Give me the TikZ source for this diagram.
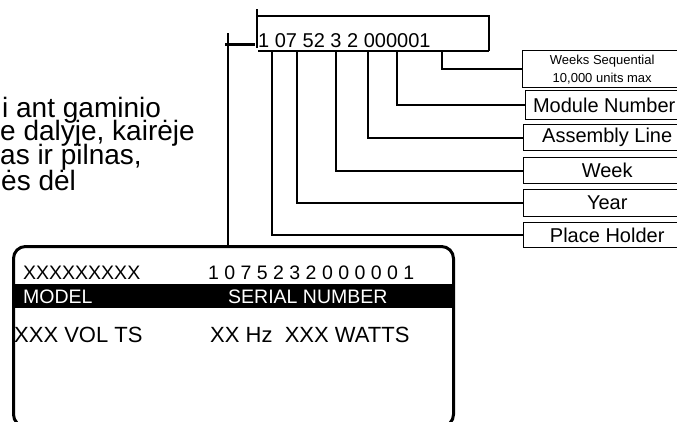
\documentclass[tikz,border=0pt]{standalone}
\usepackage{fontspec}
\setmainfont{Liberation Sans}
\usepackage{xcolor}
\usetikzlibrary{positioning}
\definecolor{ink}{HTML}{000000}

\tikzset{
  lead/.style={line width=1.8pt, draw=ink},
  fieldbox/.style={draw=ink, line width=1.4pt, anchor=north west, inner sep=0pt,
    minimum width=167pt, align=center, font=\fontsize{20}{22}\selectfont},
  platetext/.style={anchor=base west, inner sep=0pt, font=\fontsize{19.5}{22}\selectfont},
  notetext/.style={anchor=base west, inner sep=0pt, font=\fontsize{28}{28}\selectfont},
}

\begin{document}
\begin{tikzpicture}[x=1pt, y=-1pt, line cap=butt]
  \useasboundingbox (0,0) rectangle (677,421);
  \clip (0,0) rectangle (677,421);

  % cut-off note on the left
  \node[notetext] (note1) at (2,117) {i ant gaminio};
  \node[notetext] (note2) at (0,140) {e dalyje, kairėje};
  \node[notetext] (note3) at (0,164) {as ir pilnas,};
  \node[notetext] (note4) at (1,190) {ės dėl};

  % serial number with its bracket
  \node[anchor=base west, inner sep=0pt, font=\fontsize{20}{24}\selectfont] (serial) at (258,47) {1 07 52 3 2 000001};
  \coordinate (ul) at (258,51);
  \coordinate (ur) at (489,51);
  \draw[lead] (257,9) -- (257,48);
  \draw[lead] (257,16) -- (489,16) -- (ur);
  \draw[lead] (ul) -- (ur);

  % field boxes
  \node[fieldbox, minimum height=37pt, font=\fontsize{13}{18}\selectfont] (weeks) at (522,50) {\kern-8pt Weeks Sequential\\\kern-8pt 10,000 units max};
  \node[fieldbox, minimum height=29pt] (module) at (525,90) {\raisebox{-4pt}{\kern-10pt Module Number}};
  \node[fieldbox, minimum height=26pt] (assembly) at (523,124) {Assembly Line};
  \node[fieldbox, minimum height=26pt] (week) at (523,157) {Week};
  \node[fieldbox, minimum height=27pt] (year) at (523,189) {Year};
  \node[fieldbox, minimum height=25pt] (holder) at (523,222) {Place Holder};

  % taps on the underline
  \coordinate (tapweeks) at (442,51);
  \coordinate (tapmodule) at (397,51);
  \coordinate (tapassembly) at (368,51);
  \coordinate (tapweek) at (336,51);
  \coordinate (tapyear) at (297,51);
  \coordinate (tapholder) at (272,51);
  \draw[lead] (tapweeks) |- (weeks.west);
  \draw[lead] (tapmodule) |- (module.west);
  \draw[lead] (tapassembly) |- (assembly.west);
  \draw[lead] (tapweek) |- (week.west);
  \draw[lead] (tapyear) |- (year.west);
  \draw[lead] (tapholder) |- (holder.west);

  % rating plate
  \node[draw=ink, line width=3pt, rounded corners=12pt, anchor=north west, inner sep=0pt,
    minimum width=440pt, minimum height=180pt] (plate) at (12,245) {};
  \fill[ink] (12,284) rectangle (452,308);
  \coordinate (mark) at (228,33);
  \draw[line width=3pt, draw=ink] (225,44) -- (255,44);
  \draw[lead] (mark) -- (mark |- plate.north);

  \node[platetext] (model) at (23,279) {XXXXXXXXX};
  \node[platetext] (number) at (208,279) {1 0 7 5 2 3 2 0 0 0 0 0 1};
  \node[platetext, text=white] (modellabel) at (23,303) {MODEL};
  \node[platetext, text=white] (numberlabel) at (228,303) {SERIAL NUMBER};
  \node[anchor=base west, inner sep=0pt, font=\fontsize{22}{24}\selectfont] (volts) at (14,342) {XXX VOL TS};
  \node[anchor=base west, inner sep=0pt, font=\fontsize{22}{24}\selectfont] (watts) at (210,342) {XX Hz\ \ XXX WATTS};
\end{tikzpicture}
\end{document}
